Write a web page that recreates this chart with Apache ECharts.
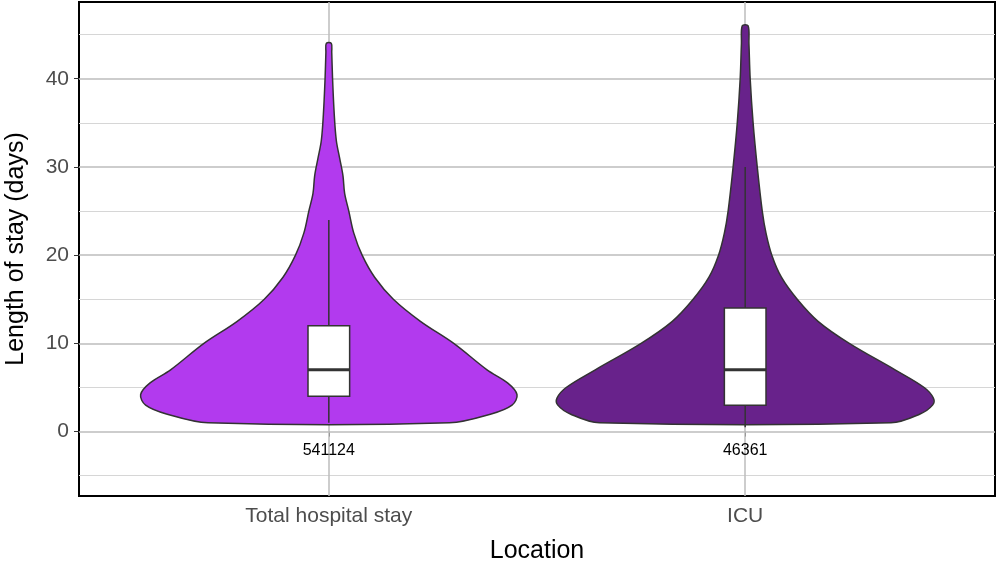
<!DOCTYPE html>
<html><head><meta charset="utf-8">
<script src="https://cdn.jsdelivr.net/npm/echarts@6/dist/echarts.min.js"></script>
<style>html,body{margin:0;padding:0;background:#fff}#c{width:1001px;height:565px}</style>
</head><body><div id="c"></div>
<script>
// categories and summary values
const categories = ["Total hospital stay", "ICU"];
const counts = [541124, 46361];
const colors = ["#B23AEE", "#68228B"];
// density outline: [length of stay, half width in category units]
const densityTotal = [[1,0.29],[2,0.39],[3,0.44],[4.2,0.452],[5.5,0.43],[7,0.38],[10,0.30],[12.5,0.22],[15,0.155],[17.5,0.11],[20,0.08],[22.5,0.06],[25,0.048],[27,0.038],[29,0.034],[31,0.026],[33,0.018],[36,0.013],[40,0.009],[43,0.007],[44,0.006]];
const densityICU = [[1,0.35],[2,0.42],[3,0.45],[3.8,0.452],[5,0.43],[7,0.36],[10,0.25],[12.5,0.175],[15,0.125],[17.5,0.087],[20,0.064],[22.5,0.05],[25,0.041],[30,0.029],[35,0.019],[40,0.012],[44,0.009],[46,0.007]];
const densities = [densityTotal, densityICU];
// box stats: [lower whisker, q1, median, q3, upper whisker]
const boxStats = [[1, 4, 7, 12, 24], [0.5, 3, 7, 14, 30]];
const yMajor = [0, 10, 20, 30, 40];
const yMinor = [-5, 5, 15, 25, 35, 45];

const chart = echarts.init(document.getElementById('c'));
const dark = '#333';
function renderViolin(params, api) {
  const i = params.dataIndex;
  const cx = i + 1;
  const d = densities[i];
  const pts = [];
  d.forEach(p => pts.push(api.coord([cx + p[1], p[0]])));
  for (let k = d.length - 1; k >= 0; k--) pts.push(api.coord([cx - d[k][1], d[k][0]]));
  const b = boxStats[i], bw = 0.05;
  const tl = api.coord([cx - bw, b[3]]), br = api.coord([cx + bw, b[1]]);
  return {type: 'group', children: [
    {type: 'polygon', shape: {points: pts, smooth: 0.35}, style: {fill: colors[i], stroke: dark, lineWidth: 1.5}},
    {type: 'line', shape: {x1: api.coord([cx, b[0]])[0], y1: api.coord([cx, b[0]])[1], x2: api.coord([cx, b[4]])[0], y2: api.coord([cx, b[4]])[1]}, style: {stroke: dark, lineWidth: 1.5}},
    {type: 'rect', shape: {x: tl[0], y: tl[1], width: br[0] - tl[0], height: br[1] - tl[1]}, style: {fill: '#fff', stroke: dark, lineWidth: 1.5}},
    {type: 'line', shape: {x1: tl[0], y1: api.coord([cx, b[2]])[1], x2: br[0], y2: api.coord([cx, b[2]])[1]}, style: {stroke: dark, lineWidth: 3}},
    {type: 'text', style: {text: String(counts[i]), x: api.coord([cx, 0])[0], y: api.coord([cx, -2.1])[1], align: 'center', verticalAlign: 'middle', fill: '#000', font: '16px Liberation Sans, Arial'}}
  ]};
}
const gridLines = [];
yMinor.forEach(v => gridLines.push({yAxis: v, lineStyle: {color: '#d6d6d6', width: 1, type: 'solid'}}));
yMajor.forEach(v => gridLines.push({yAxis: v, lineStyle: {color: '#bdbdbd', width: 1.5, type: 'solid'}}));
[1, 2].forEach(v => gridLines.push({xAxis: v, lineStyle: {color: '#bdbdbd', width: 1.5, type: 'solid'}}));

chart.setOption({
  animation: false,
  grid: {left: 79, right: 6, top: 2, bottom: 69, outerBoundsMode: 'none', containLabel: false, show: true, borderColor: '#000', borderWidth: 2, backgroundColor: '#fff'},
  xAxis: {type: 'value', min: 0.4, max: 2.6, interval: 0.2,
    axisLine: {show: false}, splitLine: {show: false},
    axisTick: {show: true, customValues: [1, 2], length: 5, lineStyle: {color: '#333'}},
    axisLabel: {customValues: [1, 2], formatter: v => categories[Math.round(v) - 1], color: '#4d4d4d', fontSize: 21, fontFamily: 'Liberation Sans, Arial', margin: 10},
    name: 'Location', nameLocation: 'middle', nameGap: 43, nameTextStyle: {fontSize: 25, color: '#000', fontFamily: 'Liberation Sans, Arial'}},
  yAxis: {type: 'value', min: -7.3, max: 48.7,
    axisLine: {show: false}, splitLine: {show: false},
    axisTick: {show: true, customValues: yMajor, length: 5, lineStyle: {color: '#333'}},
    axisLabel: {customValues: yMajor, color: '#4d4d4d', fontSize: 21, fontFamily: 'Liberation Sans, Arial', margin: 10},
    name: 'Length of stay (days)', nameLocation: 'middle', nameGap: 50, nameTextStyle: {fontSize: 25, color: '#000', fontFamily: 'Liberation Sans, Arial'}},
  series: [
    {type: 'line', data: [], silent: true, markLine: {symbol: 'none', silent: true, label: {show: false}, data: gridLines}},
    {type: 'custom', renderItem: renderViolin, data: [[1], [2]], z: 5}
  ]
});
</script></body></html>
